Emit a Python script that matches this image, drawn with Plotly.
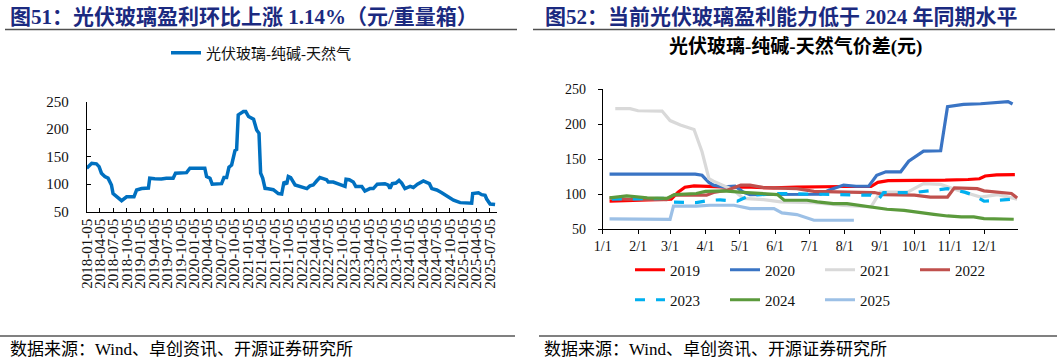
import plotly.graph_objects as go

W, H = 1057, 362

# ---------------- Left chart data (weekly series) ----------------
left_name = "光伏玻璃-纯碱-天然气"
left_dates = [
    "2018-01-05", "2018-02-08", "2018-03-12", "2018-03-30", "2018-04-15", "2018-05-08",
    "2018-05-30", "2018-06-22", "2018-07-03", "2018-07-26", "2018-08-30", "2018-10-03",
    "2018-11-06", "2018-11-22", "2018-12-10", "2019-01-13", "2019-02-28", "2019-03-09",
    "2019-04-12", "2019-05-27", "2019-06-30", "2019-08-15", "2019-08-31", "2019-11-14",
    "2019-12-07", "2020-03-17", "2020-03-29", "2020-04-21", "2020-05-06", "2020-07-09",
    "2020-07-25", "2020-08-12", "2020-08-28", "2020-09-15", "2020-10-08", "2020-10-19",
    "2020-10-30", "2020-12-04", "2020-12-20", "2021-01-08", "2021-02-11", "2021-03-04",
    "2021-03-20", "2021-03-31", "2021-04-14", "2021-04-30", "2021-05-22", "2021-06-25",
    "2021-07-29", "2021-08-21", "2021-09-06", "2021-09-24", "2021-10-05", "2021-10-21",
    "2021-11-20", "2021-12-12", "2022-01-04", "2022-02-08", "2022-03-01", "2022-03-23",
    "2022-04-15", "2022-05-07", "2022-05-30", "2022-06-22", "2022-07-03", "2022-08-06",
    "2022-09-09", "2022-10-13", "2022-10-25", "2022-11-01", "2022-11-23", "2022-12-20",
    "2023-01-06", "2023-02-16", "2023-03-09", "2023-04-12", "2023-05-05", "2023-06-01",
    "2023-07-23", "2023-08-15", "2023-08-26", "2023-09-11", "2023-10-06", "2023-10-27",
    "2023-11-14", "2023-12-06", "2024-01-10", "2024-02-01", "2024-02-29", "2024-04-09",
    "2024-05-20", "2024-06-05", "2024-07-09", "2024-08-12", "2024-09-15", "2024-10-31",
    "2024-12-15", "2025-03-03", "2025-03-10", "2025-04-18", "2025-05-10", "2025-06-02",
    "2025-06-13", "2025-07-06", "2025-08-09",
]
left_values = [
    129, 138, 137, 132, 120, 114,
    111, 98.5, 83, 78.5, 70, 77,
    76, 77, 89.5, 92, 93, 111,
    110, 109.5, 111, 111, 120, 121,
    129, 129, 114, 111, 100, 101,
    112, 112, 130.7, 135, 161, 163,
    226, 232, 232, 223, 218, 198.5,
    192.5, 120, 111, 92.5, 91.8, 90,
    83, 82, 104.5, 100, 114, 112,
    98.5, 97, 95, 92, 97, 98.5,
    105.8, 112, 110, 108, 104, 104,
    100.5, 96, 96, 109, 108, 104,
    96, 96, 87.7, 92, 92, 100,
    101, 98.5, 92, 101, 102, 107,
    102, 92, 96, 94, 100, 106,
    101, 92, 89.5, 84.6, 78.5, 71,
    66.5, 65.5, 83, 84.5, 81, 80,
    73, 64, 63,
]

# ---------------- Right chart data (month-day, value) ----------------
series_names = ["2019", "2020", "2021", "2022", "2023", "2024", "2025"]

md_2019 = ["01-07", "01-21", "02-10", "02-25", "03-02", "03-08", "03-14", "03-22", "04-06",
           "04-21", "05-11", "05-31", "06-20", "07-10", "07-30", "08-24", "08-30", "09-08",
           "09-28", "10-28", "11-17", "11-27", "12-02", "12-12", "12-28"]
v_2019 = [90, 91, 92, 93, 93, 103, 110, 112, 111,
          110, 110, 109, 110, 111, 111, 111, 117, 119.5,
          119.5, 120, 121, 122, 126, 127.5, 128]

md_2020 = ["01-07", "03-23", "03-29", "04-04", "04-08", "04-17", "04-27", "05-04", "05-10",
           "07-11", "07-18", "07-31", "08-11", "08-22", "08-29", "09-06", "09-19", "09-26",
           "10-09", "10-24", "10-30", "11-13", "11-28", "12-16", "12-22", "12-26"]
v_2020 = [128.6, 128.6, 127, 116.7, 113, 110.5, 111.4, 103, 99.5,
          100, 105.7, 113, 111.4, 111.4, 127, 132, 132, 147,
          161.4, 162, 224.8, 228, 229, 232, 232, 228.6]

md_2021 = ["01-12", "01-25", "02-01", "02-22", "03-01", "03-10", "03-22", "03-29", "04-04",
           "04-08", "04-17", "04-26", "05-04", "05-22", "06-06", "07-05", "07-31", "08-24",
           "09-01", "09-25", "10-09", "10-24", "11-08", "11-28", "12-13", "12-30"]
v_2021 = [222, 222, 219, 218.6, 205, 198.6, 192.4, 160.5, 122.4,
          118.6, 112, 105.7, 94, 92.4, 89, 88, 84, 82,
          103, 103, 115, 114, 105.7, 96, 99.5, 93]

md_2022 = ["01-07", "01-21", "02-26", "03-04", "04-02", "04-08", "04-20", "05-02", "05-10",
           "05-22", "06-20", "07-05", "08-03", "08-27", "09-04", "10-01", "10-15", "10-30",
           "11-05", "11-25", "12-01", "12-16", "12-25", "12-30"]
v_2022 = [94.7, 93, 92.4, 98.6, 98.6, 102.4, 105.7, 113, 113,
          109.5, 108, 104, 103, 102.4, 99.5, 98.6, 96, 96,
          109, 108, 104.8, 103, 101, 94.7]

md_2023 = ["01-09", "02-23", "03-01", "03-24", "04-05", "04-14", "04-29", "05-10", "06-06",
           "08-03", "08-24", "08-30", "09-04", "10-01", "10-18", "10-30", "11-14", "11-22",
           "12-01", "12-27"]
v_2023 = [93, 94, 89, 88, 91.4, 92, 90, 98.6, 101,
          100, 98.6, 91.4, 102.4, 102.4, 105.7, 108, 103, 98.6,
          90, 93]

md_2024 = ["01-07", "01-22", "02-09", "02-26", "03-05", "03-24", "04-01", "04-17", "05-07",
           "06-03", "06-09", "06-29", "07-08", "07-22", "08-03", "08-18", "08-27", "09-07",
           "09-22", "10-01", "10-18", "10-30", "11-11", "11-22", "12-01", "12-27"]
v_2024 = [94.7, 97.6, 94.7, 94, 99.5, 101, 104, 104.8, 102.4,
          99.5, 91.4, 91.4, 89, 86.7, 86.7, 83.3, 80.5, 78.6,
          77, 74.8, 71.4, 69, 67.6, 67.6, 65.2, 64.3]

md_2025 = ["01-07", "03-01", "03-04", "03-24", "04-05", "04-26", "05-10", "05-31", "06-07",
           "06-20", "07-05", "07-20", "07-31", "08-09"]
v_2025 = [65, 64.3, 83, 83, 84.3, 84.3, 79.5, 79.5, 73.3,
          71, 62.9, 62.9, 62, 62.9]

right_md = [md_2019, md_2020, md_2021, md_2022, md_2023, md_2024, md_2025]
right_vals = [v_2019, v_2020, v_2021, v_2022, v_2023, v_2024, v_2025]
right_colors = ["#ff0000", "#3a74c4", "#d9d9d9", "#c0504d", "#00b0f0", "#5b9a3c", "#9cc0e6"]
right_dash = ["solid", "solid", "solid", "solid", "10px,11px", "solid", "solid"]
right_legend = ["legend2", "legend2", "legend2", "legend2", "legend3", "legend3", "legend3"]

BASE_YEAR = "2001"

# ---------------- Text ----------------
title_left = "图51：光伏玻璃盈利环比上涨 1.14%（元/重量箱）"
title_right = "图52：当前光伏玻璃盈利能力低于 2024 年同期水平"
subtitle_right = "光伏玻璃-纯碱-天然气价差(元)"
source_text = "数据来源：Wind、卓创资讯、开源证券研究所"

FONT = "Liberation Serif, Noto Sans CJK SC, serif"
NAVY = "#1b2a80"


def px(x):
    return x / W


def py(y):
    return 1 - y / H


fig = go.Figure()

fig.add_trace(go.Scatter(
    x=left_dates, y=left_values, mode="lines", name=left_name,
    line=dict(color="#0070c0", width=3.5), xaxis="x", yaxis="y", legend="legend",
))

for name, mds, vals, col, dash, lg in zip(series_names, right_md, right_vals,
                                         right_colors, right_dash, right_legend):
    fig.add_trace(go.Scatter(
        x=[f"{BASE_YEAR}-{m}" for m in mds], y=vals, mode="lines", name=name,
        line=dict(color=col, width=3.2, dash=dash), xaxis="x2", yaxis="y2", legend=lg,
    ))

axis_font = dict(family=FONT, size=15, color="#111")

fig.update_layout(
    width=W, height=H,
    margin=dict(l=0, r=0, t=0, b=0, pad=0, autoexpand=False),
    paper_bgcolor="white", plot_bgcolor="white",
    font=dict(family=FONT, color="#111"),
    showlegend=True,
    xaxis=dict(
        domain=[px(86.7), px(497)], anchor="y", type="date", automargin=False,
        range=["2018-01-05", "2025-08-22"],
        tick0="2018-01-05", dtick="M3", tickformat="%Y-%m-%d", tickangle=-90,
        ticks="inside", ticklen=4, tickcolor="#000", showline=True, linecolor="#000",
        linewidth=1, showgrid=False, zeroline=False, tickfont=axis_font,
    ),
    yaxis=dict(
        domain=[py(211.7), py(101.7)], anchor="x", range=[50, 250], dtick=50,
        automargin=False,
        ticks="inside", ticklen=4, tickcolor="#000", showline=True, linecolor="#000",
        linewidth=1, showgrid=False, zeroline=False, tickfont=axis_font,
        ticklabelstandoff=14,
    ),
    xaxis2=dict(
        domain=[px(602.7), px(1018.3)], anchor="y2", type="date", automargin=False,
        range=[f"{BASE_YEAR}-01-01", f"{BASE_YEAR}-12-31"],
        tick0=f"{BASE_YEAR}-01-01", dtick="M1", tickformat="%-m/%-d",
        ticks="outside", ticklen=4, tickcolor="#000", showline=True, linecolor="#000",
        linewidth=1, showgrid=False, zeroline=False,
        tickfont=dict(family=FONT, size=14, color="#111"),
    ),
    yaxis2=dict(
        domain=[py(229.3), py(89)], anchor="x2", range=[50, 250], dtick=50,
        automargin=False,
        ticks="outside", ticklen=4, tickcolor="#000", showline=True, linecolor="#000",
        linewidth=1, showgrid=False, zeroline=False,
        tickfont=dict(family=FONT, size=14, color="#111"),
        ticklabelstandoff=9,
    ),
    legend=dict(
        orientation="h", x=px(166), y=py(53), xanchor="left", yanchor="middle",
        font=dict(family=FONT, size=15, color="#111"), bgcolor="rgba(0,0,0,0)",
        borderwidth=0,
    ),
    legend2=dict(
        orientation="h", x=px(630), y=py(270), xanchor="left", yanchor="middle",
        font=dict(family=FONT, size=15, color="#111"), bgcolor="rgba(0,0,0,0)",
        entrywidth=50, entrywidthmode="pixels", borderwidth=0,
    ),
    legend3=dict(
        orientation="h", x=px(630), y=py(300), xanchor="left", yanchor="middle",
        font=dict(family=FONT, size=15, color="#111"), bgcolor="rgba(0,0,0,0)",
        entrywidth=50, entrywidthmode="pixels", borderwidth=0,
    ),
)

annotations = [
    dict(text=f"<b>{title_left}</b>", x=px(8), y=py(17), xanchor="left", yanchor="middle",
         font=dict(family=FONT, size=21, color=NAVY)),
    dict(text=f"<b>{title_right}</b>", x=px(543), y=py(17), xanchor="left", yanchor="middle",
         font=dict(family=FONT, size=21, color=NAVY)),
    dict(text=f"<b>{subtitle_right}</b>", x=px(795), y=py(47), xanchor="center", yanchor="middle",
         font=dict(family=FONT, size=19, color="#000")),
    dict(text=source_text, x=px(8), y=py(349), xanchor="left", yanchor="middle",
         font=dict(family=FONT, size=17, color="#000")),
    dict(text=source_text, x=px(542), y=py(349), xanchor="left", yanchor="middle",
         font=dict(family=FONT, size=17, color="#000")),
]
for a in annotations:
    a.update(xref="paper", yref="paper", showarrow=False)
fig.update_layout(annotations=annotations)

shapes = [
    dict(type="line", x0=px(5), x1=px(517), y0=py(29.5), y1=py(29.5),
         line=dict(color="#505050", width=1.5)),
    dict(type="line", x0=px(533), x1=px(1055), y0=py(29.5), y1=py(29.5),
         line=dict(color="#505050", width=1.5)),
    dict(type="line", x0=px(0), x1=px(515), y0=py(336), y1=py(336),
         line=dict(color="#808080", width=2)),
    dict(type="line", x0=px(539), x1=px(1057), y0=py(336), y1=py(336),
         line=dict(color="#808080", width=2)),
]
for s in shapes:
    s.update(xref="paper", yref="paper")
fig.update_layout(shapes=shapes)

fig.write_html(
    "out.html",
    config={"displayModeBar": False},
    post_script="document.body.style.margin='0';document.body.style.overflow='hidden';",
)
